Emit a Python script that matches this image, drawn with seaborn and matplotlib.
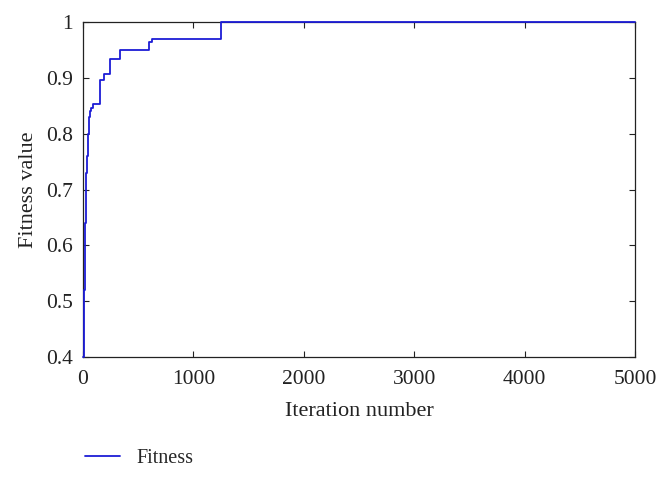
import matplotlib
matplotlib.use("Agg")
import matplotlib.pyplot as plt
import seaborn as sns
import pandas as pd

iterations = [0, 8, 12, 16, 20, 25, 30, 36, 42, 51, 60, 75, 90, 151, 190, 248, 338, 595, 625, 1247, 5000]
fitness = [0.40, 0.41, 0.52, 0.58, 0.64, 0.69, 0.73, 0.76, 0.80, 0.83, 0.84, 0.846, 0.854, 0.897, 0.907,
           0.933, 0.949, 0.964, 0.970, 1.0, 1.0]
xticks = [0, 1000, 2000, 3000, 4000, 5000]
yticks = [0.4, 0.5, 0.6, 0.7, 0.8, 0.9, 1.0]
ytick_labels = ["0.4", "0.5", "0.6", "0.7", "0.8", "0.9", "1"]

df = pd.DataFrame({"Iteration number": iterations, "Fitness value": fitness})

sns.set_style("white")
plt.rcParams["font.family"] = ["Liberation Serif", "DejaVu Serif"]

fig = plt.figure(figsize=(6.68, 4.78), dpi=100)
ax = fig.add_axes([83 / 668, 1 - 357 / 478, (635 - 83) / 668, (357 - 22) / 478])

sns.lineplot(data=df, x="Iteration number", y="Fitness value", ax=ax, color="#1c1cd6",
             linewidth=1.3, drawstyle="steps-post", label="Fitness", legend=False)
for ln in ax.lines:
    ln.set_clip_on(False)
    ln.set_zorder(5)

ax.set_xlim(0, 5000)
ax.set_ylim(0.4, 1.0)
ax.set_xticks(xticks)
ax.set_yticks(yticks)
ax.set_yticklabels(ytick_labels)
ax.tick_params(direction="in", length=4, width=0.8, labelsize=15.5, top=True, right=True,
               bottom=True, left=True, colors="#222222")
ax.tick_params(axis="x", pad=9)
ax.tick_params(axis="y", pad=7)
for s in ax.spines.values():
    s.set_color("#222222")
    s.set_linewidth(0.9)
ax.set_xlabel("Iteration number", fontsize=16, color="#222222", labelpad=10)
ax.set_ylabel("Fitness value", fontsize=16, color="#222222", labelpad=6)

handles, labels = ax.get_legend_handles_labels()
fig.legend(handles, labels, loc="center left", bbox_to_anchor=(67 / 668, 1 - 458 / 478),
           frameon=False, fontsize=14.5, handlelength=1.75, handletextpad=0.8)

fig.savefig("out.png", dpi=100)
